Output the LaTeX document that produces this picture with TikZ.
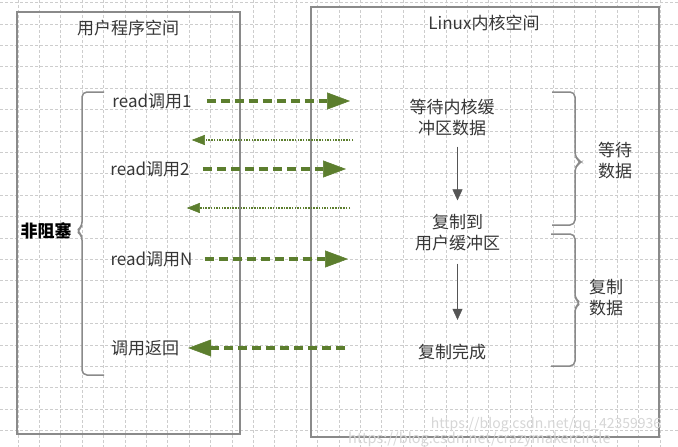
\documentclass[tikz,border=0pt]{standalone}
\usepackage{fontspec}
\setmainfont{Noto Sans CJK SC}
\usetikzlibrary{arrows.meta,positioning}
\definecolor{gridgray}{RGB}{205,205,205}
\definecolor{boxgray}{RGB}{138,138,138}
\definecolor{txtgray}{RGB}{55,55,55}
\definecolor{callgreen}{RGB}{92,126,46}
\definecolor{flowgray}{RGB}{85,85,85}
\definecolor{markgray}{RGB}{214,214,214}
\tikzset{
  lbl/.style={text=txtgray, font=\fontsize{17}{21}\selectfont, inner sep=0pt, align=center},
  call/.style={line width=4pt, color=callgreen, dash pattern=on 9pt off 5pt,
    -{Triangle[length=23pt,width=17pt,line width=0.5pt]}},
  back/.style={line width=1.5pt, color=callgreen, dash pattern=on 1.5pt off 1.2pt,
    -{Triangle[length=13pt,width=10pt,line width=0.5pt]}},
  flow/.style={line width=1.5pt, color=flowgray, -{Triangle[length=11pt,width=10pt,line width=0.5pt]}},
  brace/.style={line width=1.5pt, color=boxgray, rounded corners=5pt},
  space/.style={line width=2pt, color=boxgray},
  gridline/.style={gridgray, line width=0.8pt, dash pattern=on 3pt off 2pt}
}

\begin{document}
\begin{tikzpicture}[x=1pt,y=-1pt]
	%%%%% START %%%%%
	\useasboundingbox[fill=white] (0,0) rectangle (678,447);
	
	% grid paper
	\foreach \i in {0,...,30}
		\draw[gridline] ({18+21.4*\i},0) -- ({18+21.4*\i},447);
	\foreach \j in {0,...,20}
		\draw[gridline] (0,{2.5+21.4*\j}) -- (678,{2.5+21.4*\j});
	
	% user space and kernel space
	\draw[space] (17,11.5) rectangle (239.5,433.5);
	\draw[space] (311,7) rectangle (658.5,436.5);
	\node[lbl] (user) at (128,28) {用户程序空间};
	\node[lbl] (kernel) at (484,23) {Linux内核空间};
	
	% user side
	\node[lbl] (read1) at (152,101) {read调用1};
	\node[lbl] (read2) at (150,169) {read调用2};
	\node[lbl] (readN) at (151.5,259) {read调用N};
	\node[lbl] (ret) at (145,348) {调用返回};
	\node[lbl, text=black, font=\fontsize{17}{21}\selectfont\bfseries] (nonblock) at (46,231) {非阻塞};
	\draw[brace] (104,92) -- (82,92) -- (82,227) -- (76,231) -- (82,235) -- (82,375) -- (104,375);
	
	% kernel side
	\node[lbl] (wait) at (452,118) {等待内核缓\\冲区数据};
	\node[lbl] (copy) at (457.5,233) {复制到\\用户缓冲区};
	\node[lbl] (done) at (452,352) {复制完成};
	\node[lbl] (waitdata) at (615,161) {等待\\数据};
	\node[lbl] (copydata) at (606,297.5) {复制\\数据};
	\draw[brace] (552,92) -- (575,92) -- (575,158) -- (582,162) -- (575,166) -- (575,225) -- (552,225);
	\draw[brace] (551,234) -- (575,234) -- (575,299) -- (581,303) -- (575,307) -- (575,366) -- (551,366);
	
	\draw[flow] ([yshift=-10pt]wait.south -| copy.center) -- ([yshift=14pt]copy.north);
	\draw[flow] ([yshift=-12pt]copy.south) -- ([yshift=24pt]copy.south |- done.north);
	
	% calls and replies
	\coordinate (k1) at (350,101);
	\coordinate (k2) at (346,169);
	\coordinate (kN) at (348,259);
	\coordinate (kR) at (345,348);
	\coordinate (b1) at (353,140);
	\coordinate (b2) at (350,208);
	
	\draw[call] ([xshift=15pt]read1.east) -- (k1);
	\draw[call] ([xshift=13pt]read2.east) -- (k2);
	\draw[call] ([xshift=12pt]readN.east) -- (kN);
	\draw[call] (kR) -- ([xshift=9pt]ret.east);
	\draw[back] (b1) -- (b1 -| read1.east);
	\draw[back] (b2) -- ([xshift=-3pt]b2 -| read2.east);
	
	% watermark
	\node[text=markgray, font=\fontsize{14}{16}\selectfont, inner sep=0pt] (mark1) at (546,425) {https://blog.csdn.net/qq\_42359936};
	\node[text=markgray, font=\fontsize{14.5}{16}\selectfont, inner sep=0pt, anchor=west] (mark2) at (348,439.5) {https://blog.csdn.net/crazymakercircle};
	
	%%%%% END %%%%%
\end{tikzpicture}
\end{document}
